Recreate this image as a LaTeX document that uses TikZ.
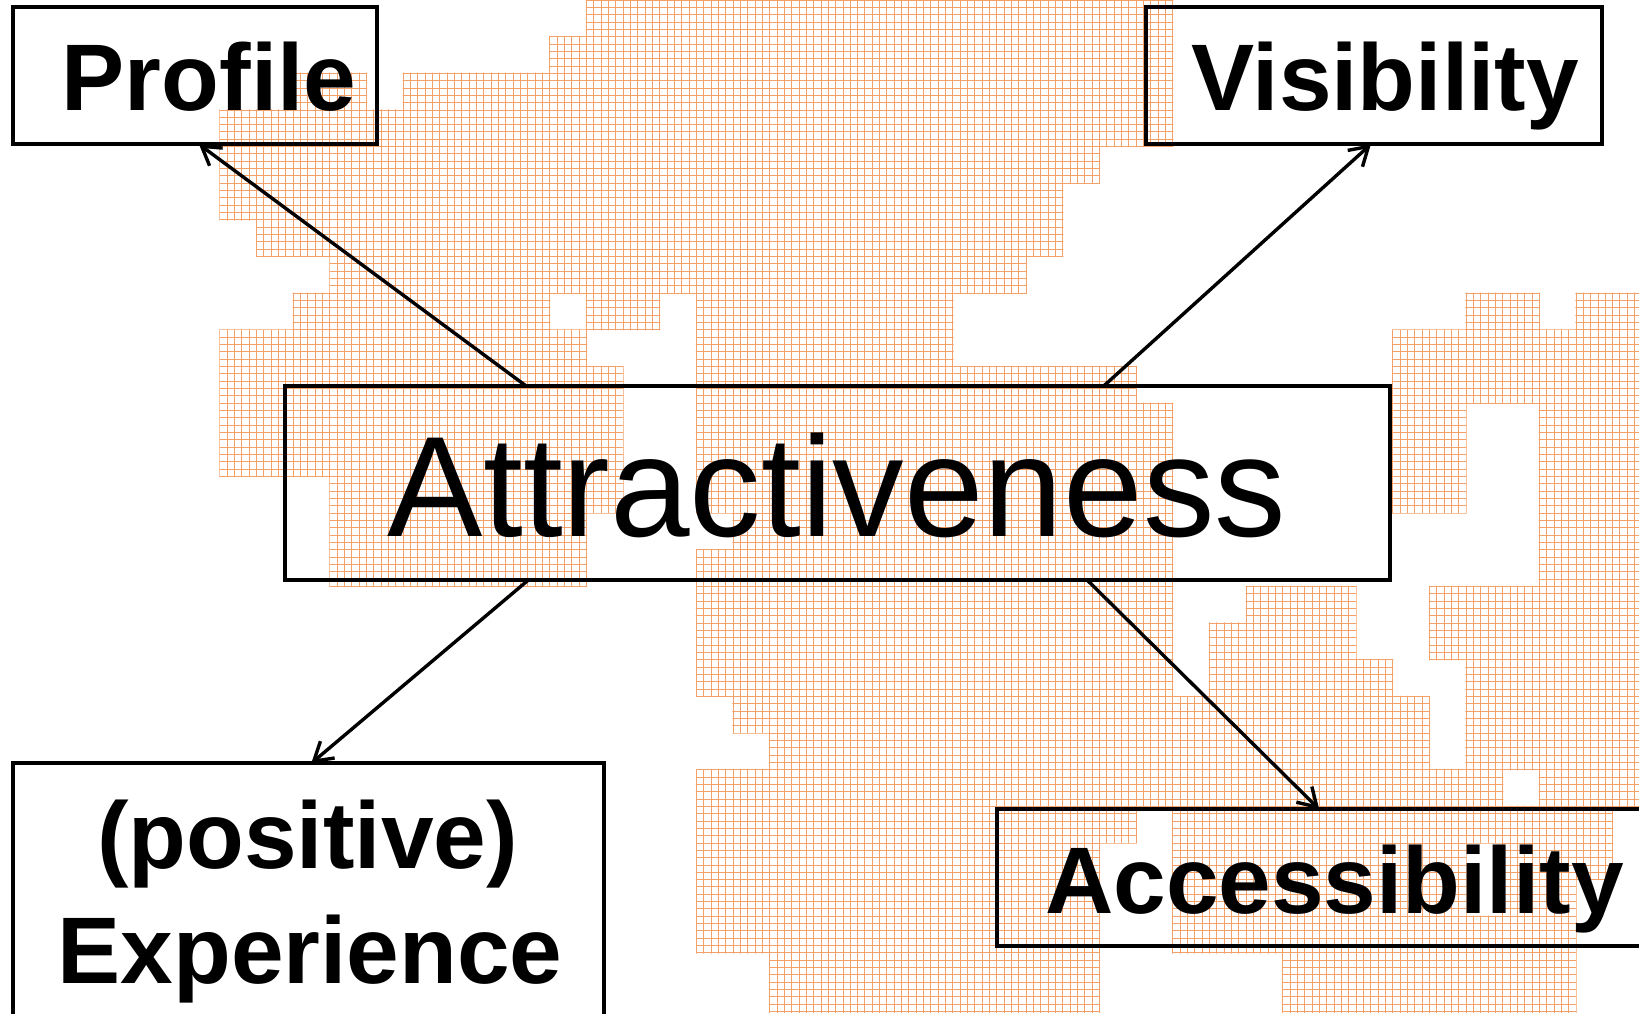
\documentclass[tikz,border=0pt]{standalone}
\usepackage{fontspec}
\setmainfont{Liberation Sans}
\usetikzlibrary{arrows.meta,calc}
\definecolor{dragon}{RGB}{243,160,105}
\begin{document}
\begin{tikzpicture}[x=1pt,y=-1pt,
  box/.style={draw=black,line width=4pt,inner sep=0pt,outer sep=0pt,rectangle},
  lbl/.style={inner sep=0pt,outer sep=0pt,anchor=base,font=\fontsize{94.6}{113}\selectfont\bfseries},
  mainlbl/.style={inner sep=0pt,outer sep=0pt,anchor=base,font=\fontsize{143}{170}\selectfont},
  link/.style={line width=3.4pt,-{Straight Barb[length=18pt,width=22pt]}},
  gridline/.style={draw=dragon,line width=0.9pt}]
\useasboundingbox (0,0) rectangle (1639,1013);
\clip (0,0) rectangle (1639,1013);
\fill[white] (0,0) rectangle (1639,1013);
% background pattern (orange grid patches)
\begin{scope}
\clip \foreach \r/\a/\b in {
  0/16/31, 1/15/31, 2/8/9, 2/11/31, 3/6/31, 4/6/29, 5/6/28, 6/7/28, 7/9/27,
  8/8/14, 8/16/17, 8/19/25, 8/40/41, 8/43/44,
  9/6/15, 9/19/25, 9/38/44,
  10/6/16, 10/19/30, 10/38/44,
  11/6/16, 11/19/31, 11/38/39, 11/42/44,
  12/6/16, 12/19/31, 12/38/39, 12/42/44,
  13/9/16, 13/19/31, 13/38/39, 13/42/44,
  14/9/15, 14/20/31, 14/42/44,
  15/9/15, 15/19/31, 15/42/44,
  16/19/31, 16/34/36, 16/39/44,
  17/19/31, 17/33/36, 17/39/44,
  18/19/31, 18/33/37, 18/40/44,
  19/20/38, 19/40/44,
  20/21/38, 20/40/44,
  21/19/40, 21/42/44,
  22/19/30, 22/32/40, 22/41/43,
  23/19/29, 23/32/39, 23/41/43,
  24/19/29, 24/32/39, 24/41/42,
  25/19/29, 25/32/42,
  26/21/29, 26/35/42,
  27/21/29, 27/35/42}
  { (\a*36.65-0.6,\r*36.65-0.6) rectangle (\b*36.65+37.25,\r*36.65+37.25) };
\draw[gridline]
  \foreach \i in {0,...,224} { (\i*7.33,0) -- (\i*7.33,1013) }
  \foreach \j in {0,...,139} { (0,\j*7.33) -- (1639,\j*7.33) };
\end{scope}
% boxes
\node[box,minimum width=364.3pt,minimum height=137pt] (profbox) at (194.65,75.8) {};
\node[box,minimum width=455.3pt,minimum height=137pt] (visbox) at (1374.05,75.8) {};
\node[box,minimum width=1104.3pt,minimum height=194pt] (attrbox) at (837.55,483) {};
\node[box,minimum width=590.7pt,minimum height=276.7pt] (expbox) at (308.35,901.65) {};
\node[box,minimum width=663pt,minimum height=136.7pt] (accbox) at (1328.5,877.65) {};
% labels
\node[lbl] (proftxt) at (209,110) {Profile};
\node[lbl] (vistxt) at (1385,110) {Visibility};
\node[mainlbl] (attrtxt) at (837,536.5) {Attractiveness};
\node[lbl] (exptxta) at (307.5,868) {(positive)};
\node[lbl] (exptxtb) at (310,983) {Experience};
\node[lbl] (acctxt) at (1334.5,913) {Accessibility};
% connectors
\draw[link] ($(attrbox.north west)!0.218!(attrbox.north east)$) -- ($(profbox.south west)!0.512!(profbox.south east)$);
\draw[link] ($(attrbox.north west)!0.741!(attrbox.north east)$) -- ($(visbox.south west)!0.493!(visbox.south east)$);
\draw[link] ($(attrbox.south west)!0.220!(attrbox.south east)$) -- ($(expbox.north west)!0.505!(expbox.north east)$);
\draw[link] ($(attrbox.south west)!0.726!(attrbox.south east)$) -- ($(accbox.north west)!0.486!(accbox.north east)$);
\end{tikzpicture}
\end{document}
